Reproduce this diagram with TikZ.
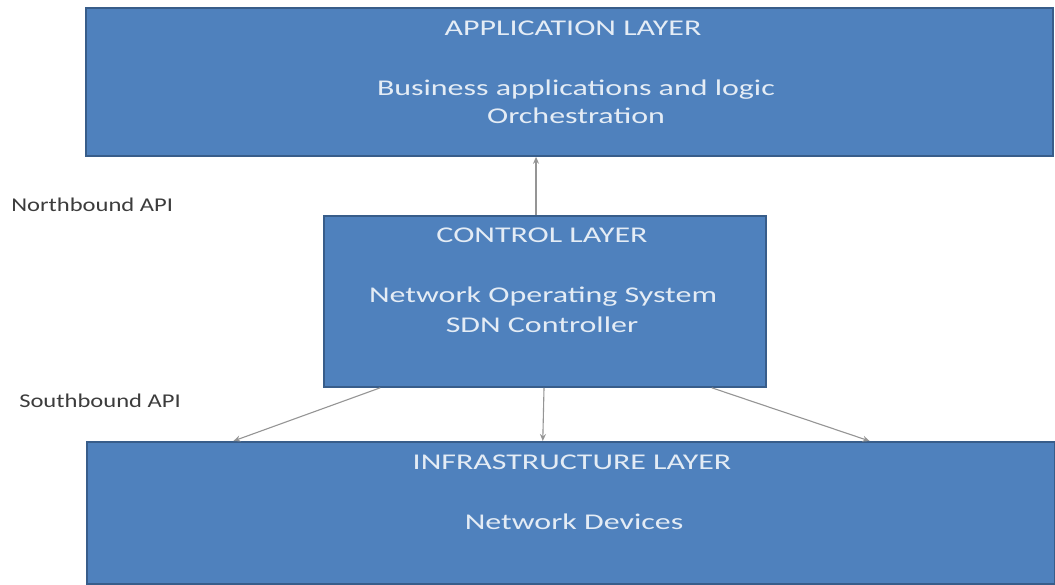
\documentclass[tikz,border=0pt]{standalone}
\usepackage{fontspec}
\setmainfont{Carlito}
\usetikzlibrary{arrows.meta,calc}
\definecolor{boxfill}{HTML}{4F81BD}
\definecolor{boxline}{HTML}{385D8A}
\definecolor{boxtext}{HTML}{E4ECF5}
\definecolor{arrgray}{HTML}{959595}
\definecolor{labgray}{HTML}{3C3C3C}
\begin{document}
\begin{tikzpicture}[x=1pt,y=-1pt,
  layerbox/.style={draw=boxline,fill=boxfill,line width=1.8pt,anchor=north west,inner sep=0pt},
  boxtxt/.style={text=boxtext,font=\fontsize{22.5}{26}\selectfont,anchor=base,inner sep=0pt,xscale=1.42},
  apilabel/.style={text=labgray,font=\fontsize{19.5}{22}\selectfont,anchor=base west,inner sep=0pt,xscale=1.26},
  arr/.style={draw=arrgray,line width=1.1pt,-{Stealth[length=7pt,width=6pt,open]}}]
\useasboundingbox (0,0) rectangle (1055,585);
\fill[white] (0,0) rectangle (1055,585);
% boxes
\node[layerbox,minimum width=967pt,minimum height=148pt] (app) at (85,7) {};
\node[layerbox,minimum width=442pt,minimum height=171pt] (ctrl) at (323,215) {};
\node[layerbox,minimum width=968pt,minimum height=142pt] (infra) at (86,441) {};
% texts
\node[boxtxt] (apptitle) at (573,36) {APPLICATION LAYER};
\node[boxtxt] (appl1) at (576,96) {Business applications and logic};
\node[boxtxt] (appl2) at (576,124) {Orchestration};
\node[boxtxt] (ctrltitle) at (542,243) {CONTROL LAYER};
\node[boxtxt] (ctrll1) at (543,303) {Network Operating System};
\node[boxtxt] (ctrll2) at (542,333) {SDN Controller};
\node[boxtxt] (infratitle) at (572,469) {INFRASTRUCTURE LAYER};
\node[boxtxt] (infral1) at (574,529) {Network Devices};
\node[apilabel] (nb) at (11,212) {Northbound API};
\node[apilabel] (sb) at (19,407) {Southbound API};
% connectors
\coordinate (u1) at ($(ctrl.north west)!0.48!(ctrl.north east)$);
\draw[arr] (u1) -- (u1 |- app.south);
\draw[arr] ($(ctrl.south west)!0.129!(ctrl.south east)$) -- ($(infra.north west)!0.152!(infra.north east)$);
\draw[arr] ($(ctrl.south west)!0.498!(ctrl.south east)$) -- ($(infra.north west)!0.471!(infra.north east)$);
\draw[arr] ($(ctrl.south west)!0.876!(ctrl.south east)$) -- ($(infra.north west)!0.808!(infra.north east)$);
\end{tikzpicture}
\end{document}
